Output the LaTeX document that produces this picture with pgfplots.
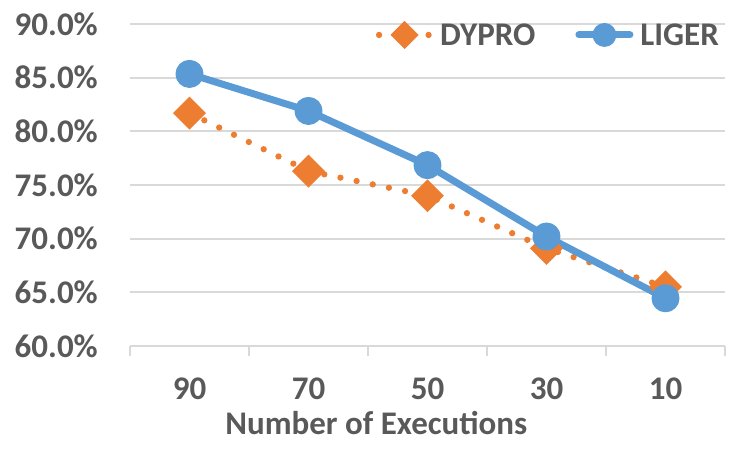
\documentclass[border=0pt]{standalone}
\usepackage{pgfplots}
\pgfplotsset{compat=1.18}
\usepackage{fontspec}
\setmainfont{Carlito}
\definecolor{cOrange}{HTML}{ED7D31}
\definecolor{cBlue}{HTML}{5B9BD5}
\definecolor{cText}{HTML}{595959}
\definecolor{cGrid}{HTML}{D9D9D9}
\newcommand\chartfont{\fontsize{33}{39}\selectfont\bfseries}
\begin{document}
\begin{tikzpicture}
\path[use as bounding box] (-130pt,-104pt) rectangle (620pt,346pt);
\begin{axis}[
  at={(0pt,0pt)}, anchor=south west,
  scale only axis, width=595pt, height=322pt,
  xmin=-0.5, xmax=4.5, ymin=60, ymax=90,
  clip=false,
  axis x line*=bottom, axis y line*=left,
  y axis line style={draw=none},
  x axis line style={draw=cGrid, line width=2pt},
  ytick={60,65,...,90},
  ymajorgrids, grid style={draw=cGrid, line width=2pt},
  ytick style={draw=none},
  /pgf/number format/assume math mode=true,
  yticklabel={\pgfmathprintnumber[fixed,fixed zerofill,precision=1]{\tick}\%},
  yticklabel style={font=\chartfont, text=cText, anchor=east, inner sep=0pt, xshift=-22pt},
  xtick={-0.5,0.5,...,4.5}, xticklabels={},
  tick align=outside, major tick length=10pt,
  xtick style={draw=cGrid, line width=2pt},
  extra x ticks={0,1,2,3,4},
  extra x tick labels={90,70,50,30,10},
  extra x tick style={major tick length=0pt, xtick style={draw=none}},
  xticklabel style={font=\chartfont, text=cText, anchor=north, inner sep=0pt, yshift=-32pt},
  xlabel={Number of Executions},
  xlabel style={font=\chartfont, text=cText, at={(axis description cs:0.414,0)}, anchor=north, inner sep=0pt, yshift=-65pt},
  legend columns=2,
  legend style={draw=none, fill=none, font=\chartfont, text=cText,
    at={(axis description cs:0.413,0.966)}, anchor=west, inner sep=0pt,
    nodes={inner sep=0pt},
    /tikz/every odd column/.append style={column sep=7pt},
    /tikz/every even column/.append style={column sep=40pt}},
  legend image code/.code={\draw[mark repeat=2,mark phase=2,#1,every mark/.append style={scale=0.8}] plot coordinates {(0pt,0pt) (25.5pt,0pt) (51pt,0pt)};},
]
\addplot[color=cOrange, line width=6.3pt, line cap=round, dash pattern=on 0pt off 16.5pt,
  mark=square*, mark size=8.5pt, mark options={rotate=45, solid, fill=cOrange, draw=none}]
  coordinates {(0,81.7) (1,76.3) (2,74.0) (3,69.1) (4,65.5)};
\addlegendentry{DYPRO}
\addplot[color=cBlue, line width=7pt, line join=round, line cap=round,
  mark=*, mark size=10.5pt, mark options={solid, fill=cBlue, draw=none}]
  coordinates {(0,85.35) (1,81.9) (2,76.85) (3,70.2) (4,64.45)};
\addlegendentry{LIGER}
\end{axis}
\end{tikzpicture}
\end{document}
